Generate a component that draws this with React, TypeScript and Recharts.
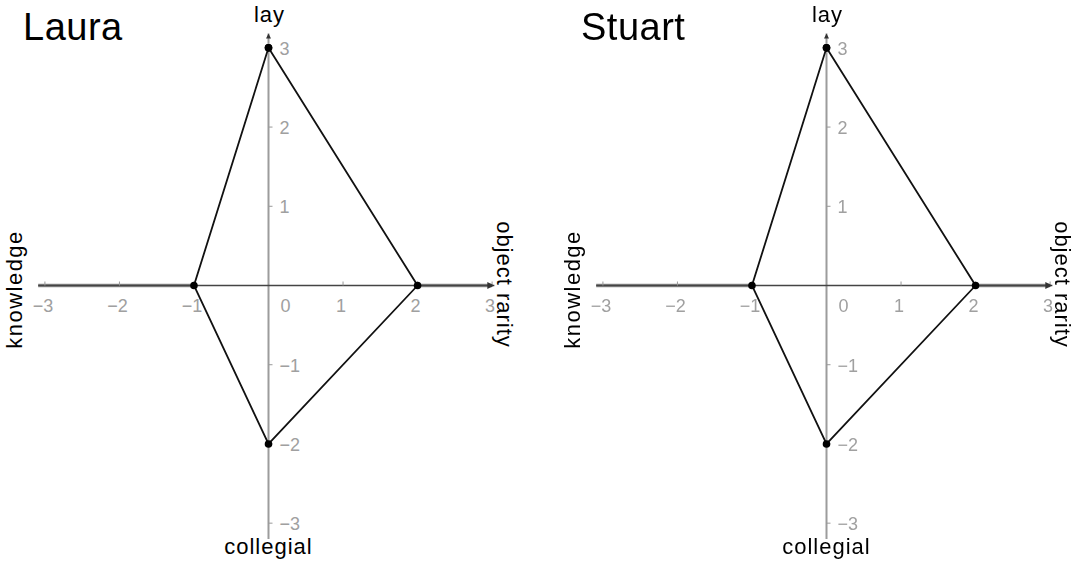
import React from "react";
import { ScatterChart, Scatter, XAxis, YAxis, ReferenceLine, ReferenceDot } from "recharts";

// two people, same diamond-shaped profile
const people = ["Laura", "Stuart"];
const lauraX = [0, 2, 0, -1, 0];
const lauraY = [3, 0, -2, 0, 3];
const stuartX = [0, 2, 0, -1, 0];
const stuartY = [3, 0, -2, 0, 3];

const xTicks = [-3, -2, -1, 1, 2, 3];
const yTicks = [-3, -2, -1, 1, 2, 3];
const axisTop = "lay";
const axisBottom = "collegial";
const axisLeft = "knowledge";
const axisRight = "object rarity";

const FONT = "'Liberation Sans', Arial, sans-serif";
const tickText = (v: number) => (v < 0 ? `\u2212${-v}` : `${v}`);

const W = 538;
const H = 561;

function XTick({ cx, cy, value }: any) {
  return (
    <g>
      <line x1={cx} y1={cy - 4} x2={cx} y2={cy} stroke="#999" strokeWidth={1} />
      <text x={cx - 2} y={cy + 26} textAnchor="middle" fill="#a0a0a0" fontSize={18} fontFamily={FONT}>
        {tickText(value)}
      </text>
    </g>
  );
}

function YTick({ cx, cy, value }: any) {
  return (
    <g>
      <line x1={cx} y1={cy} x2={cx + 4} y2={cy} stroke="#999" strokeWidth={1} />
      <text x={cx + 11} y={cy + 7} textAnchor="start" fill="#a0a0a0" fontSize={18} fontFamily={FONT}>
        {tickText(value)}
      </text>
    </g>
  );
}

function Dot({ cx, cy }: any) {
  return <circle cx={cx} cy={cy} r={3.8} fill="#000" />;
}

function Panel({ name, xs, ys }: { name: string; xs: number[]; ys: number[] }) {
  const points = xs.map((x, i) => ({ x, y: ys[i] }));
  return (
    <div style={{ position: "relative", width: W, height: H }}>
      <div style={{ position: "absolute", left: 23, top: 6, fontSize: 38, fontFamily: FONT, color: "#000", letterSpacing: 0.5 }}>
        {name}
      </div>
      <ScatterChart width={W} height={H} margin={{ top: 32, right: 31, bottom: 22, left: 30 }}>
        <XAxis type="number" dataKey="x" domain={[-3.2, 3.2]} hide />
        <YAxis type="number" dataKey="y" domain={[-3.2, 3.2]} hide />
        <ReferenceLine segment={[{ x: 0, y: -3.2 }, { x: 0, y: 3.18 }]} stroke="#9c9c9c" strokeWidth={2} />
        <ReferenceLine segment={[{ x: -3.09, y: 0 }, { x: -1, y: 0 }]} stroke="#8a8a8a" strokeWidth={3.5} />
        <ReferenceLine segment={[{ x: 2, y: 0 }, { x: 3.0, y: 0 }]} stroke="#8a8a8a" strokeWidth={3.5} />
        <ReferenceLine segment={[{ x: -3.09, y: 0 }, { x: 3.03, y: 0 }]} stroke="#444" strokeWidth={1.5} />
        {xTicks.map((v) => (
          <ReferenceDot key={`x${v}`} x={v} y={0} r={0} shape={(p: any) => <XTick {...p} value={v} />} />
        ))}
        {yTicks.map((v) => (
          <ReferenceDot key={`y${v}`} x={0} y={v} r={0} shape={(p: any) => <YTick {...p} value={v} />} />
        ))}
        <ReferenceDot
          x={0}
          y={0}
          r={0}
          shape={(p: any) => (
            <text x={p.cx + 17} y={p.cy + 26} textAnchor="middle" fill="#a0a0a0" fontSize={18} fontFamily={FONT}>
              0
            </text>
          )}
        />
        <ReferenceDot
          x={3.03}
          y={0}
          r={0}
          shape={(p: any) => <path d={`M${p.cx},${p.cy} l-7,-3.5 l0,7 z`} fill="#333" />}
        />
        <ReferenceDot
          x={0}
          y={3.18}
          r={0}
          shape={(p: any) => <path d={`M${p.cx},${p.cy} l-2.5,5 l5,0 z`} fill="#333" />}
        />
        <ReferenceDot
          x={0}
          y={3.18}
          r={0}
          shape={(p: any) => (
            <text x={p.cx + 1} y={p.cy - 12} textAnchor="middle" fill="#000" fontSize={22} fontFamily={FONT} letterSpacing={1}>
              {axisTop}
            </text>
          )}
        />
        <ReferenceDot
          x={0}
          y={-3.2}
          r={0}
          shape={(p: any) => (
            <text x={p.cx} y={p.cy + 15} textAnchor="middle" fill="#000" fontSize={22} fontFamily={FONT} letterSpacing={1}>
              {axisBottom}
            </text>
          )}
        />
        <ReferenceDot
          x={-3.2}
          y={0}
          r={0}
          shape={(p: any) => (
            <text
              x={p.cx - 8}
              y={p.cy + 4}
              textAnchor="middle"
              fill="#000"
              fontSize={22}
              fontFamily={FONT}
              letterSpacing={1.5}
              transform={`rotate(-90 ${p.cx - 8} ${p.cy + 4})`}
            >
              {axisLeft}
            </text>
          )}
        />
        <ReferenceDot
          x={3.2}
          y={0}
          r={0}
          shape={(p: any) => (
            <text
              x={p.cx - 10}
              y={p.cy - 1}
              textAnchor="middle"
              fill="#000"
              fontSize={22}
              fontFamily={FONT}
              letterSpacing={1}
              transform={`rotate(90 ${p.cx - 10} ${p.cy - 1})`}
            >
              {axisRight}
            </text>
          )}
        />
        <Scatter
          data={points}
          line={{ stroke: "#111", strokeWidth: 1.8 }}
          lineType="joint"
          shape={<Dot />}
          isAnimationActive={false}
        />
      </ScatterChart>
    </div>
  );
}

export default function App() {
  return (
    <div style={{ position: "fixed", left: 0, top: 0, width: 1076, height: 561, background: "#fff", display: "flex", fontFamily: FONT }}>
      <Panel name={people[0]} xs={lauraX} ys={lauraY} />
      <div style={{ marginLeft: 20 }}>
        <Panel name={people[1]} xs={stuartX} ys={stuartY} />
      </div>
    </div>
  );
}
